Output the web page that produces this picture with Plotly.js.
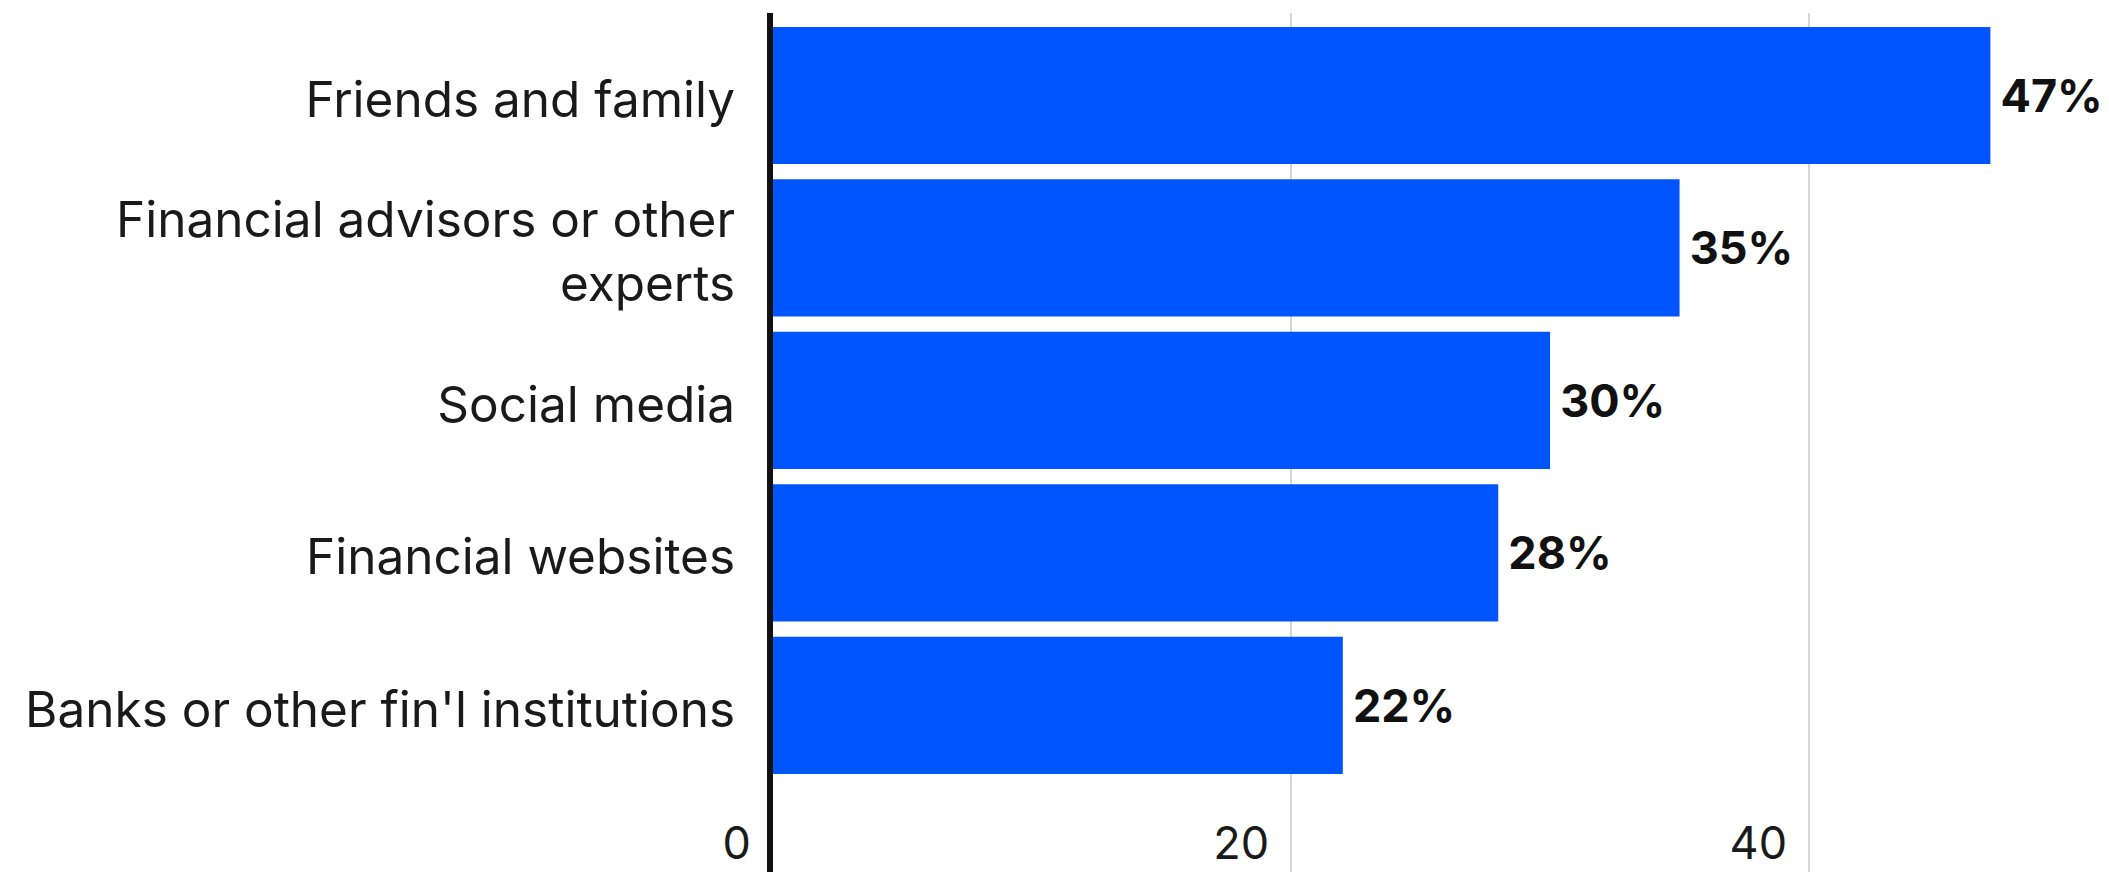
<!DOCTYPE html>
<html>
<head>
<meta charset="utf-8">
<script src="https://cdn.plot.ly/plotly-3.0.1.min.js"></script>
<style>
  html, body { margin: 0; padding: 0; background: #ffffff; }
  #chart { width: 2109px; height: 872px; }
</style>
</head>
<body>
<div id="chart"></div>
<script>
const categories = [
  "Friends and family",
  "Financial advisors or other<br>experts",
  "Social media",
  "Financial websites",
  "Banks or other fin'l institutions"
];
const values = [47, 35, 30, 28, 22];
const tickValues = [0, 20, 40];
const tickLabels = ["0", "20", "40"];

const FONT = "Inter, 'Noto Sans', sans-serif";

const trace = {
  type: "bar",
  orientation: "h",
  x: values,
  y: categories,
  marker: { color: "#0055FF", line: { width: 0 } },
  width: 0.9,
  text: values.map(v => "\u2009" + v + "%"),
  texttemplate: "<b>%{text}</b>",
  textposition: "outside",
  cliponaxis: false,
  constraintext: "none",
  textfont: { family: FONT, size: 45, color: "#111111" },
  hoverinfo: "skip"
};

const layout = {
  width: 2109,
  height: 872,
  margin: { l: 773, r: 15, t: 13, b: 0, pad: 0 },
  paper_bgcolor: "#ffffff",
  plot_bgcolor: "#ffffff",
  showlegend: false,
  font: { family: FONT, color: "#1a1a1a" },
  xaxis: {
    range: [0, 51],
    tickvals: tickValues,
    ticktext: tickLabels,
    ticks: "",
    showline: false,
    zeroline: false,
    showgrid: true,
    gridcolor: "#d6d6d6",
    gridwidth: 2,
    anchor: "free",
    position: 0.069,
    ticklabelposition: "outside left",
    ticklabelshift: -22,
    tickfont: { family: FONT, size: 45, color: "#1a1a1a" },
    automargin: false,
    fixedrange: true
  },
  yaxis: {
    type: "category",
    categoryorder: "array",
    categoryarray: categories,
    range: [5.092, -0.541],
    showline: true,
    linecolor: "#111111",
    linewidth: 6,
    showgrid: false,
    zeroline: false,
    ticks: "",
    ticklabelstandoff: 22,
    ticklabelshift: -4,
    tickfont: { family: FONT, size: 49.5, color: "#1a1a1a" },
    automargin: false,
    fixedrange: true
  }
};

Plotly.newPlot("chart", [trace], layout, { displayModeBar: false, staticPlot: true });
</script>
</body>
</html>
